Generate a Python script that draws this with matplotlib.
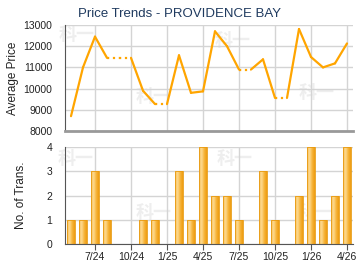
import numpy as np
import matplotlib
matplotlib.use("Agg")
import matplotlib.pyplot as plt

# monthly data, 5/24 .. 4/26 (None = no transactions that month)
months = ["5/24", "6/24", "7/24", "8/24", "9/24", "10/24", "11/24", "12/24",
          "1/25", "2/25", "3/25", "4/25", "5/25", "6/25", "7/25", "8/25",
          "9/25", "10/25", "11/25", "12/25", "1/26", "2/26", "3/26", "4/26"]
avg_price = [8700, 11000, 12450, 11450, None, None, 9900, 9270,
             None, 11570, 9800, 9870, 12700, 12000, 10900, None,
             11380, 9560, None, 12810, 11490, 11000, 11190, 12130]
num_trans = [1, 1, 3, 1, 0, 0, 1, 1,
             0, 3, 1, 4, 2, 2, 1, 0,
             3, 1, 0, 2, 4, 1, 2, 4]
tick_labels = ["7/24", "10/24", "1/25", "4/25", "7/25", "10/25", "1/26", "4/26"]
price_ticks = [8000, 9000, 10000, 11000, 12000, 13000]
trans_ticks = [0, 1, 2, 3, 4]

plt.rcParams['font.family'] = ['Liberation Sans', 'DejaVu Sans']

x = np.arange(len(months))
tick_pos = [months.index(t) for t in tick_labels]

# carry last price forward through empty months
filled = []
last = None
for v in avg_price:
    if v is not None:
        last = v
    filled.append(last)

fig = plt.figure(figsize=(3.6, 2.7), dpi=100, facecolor='w')
ax1 = fig.add_axes([65/360, 1-131/270, 288/360, 106/270])
ax2 = fig.add_axes([65/360, 1-244/270, 288/360, 97/270])

line_col = '#FFA500'
grid_col = '#d4d4d4'

def wm(ax, px, py):
    # faint watermark, position given in figure pixels
    ax.text(px/360, 1-py/270, "科一", fontsize=13, fontweight='bold',
            color='#eeeeee', family=['Noto Sans CJK SC', 'DejaVu Sans'],
            ha='center', va='center', transform=fig.transFigure,
            zorder=0.1, clip_on=False)

for px, py in [(77, 34), (233, 40), (154, 96), (317, 92)]:
    wm(ax1, px, py)
for px, py in [(76, 158), (235, 158), (154, 213), (316, 212)]:
    wm(ax2, px, py)

for ax in (ax1, ax2):
    ax.set_facecolor('none')
    ax.set_xlim(-0.5, len(months) - 0.5)
    ax.set_xticks(tick_pos)
    ax.grid(True, color=grid_col, linewidth=1.0)
    ax.set_axisbelow(True)
    for s in ('top', 'right'):
        ax.spines[s].set_visible(False)
    ax.spines['left'].set_color('#555555')
    ax.tick_params(axis='y', length=0, pad=9, labelsize=7.5, colors='#222222')

# price line
for i in range(len(x) - 1):
    style = ':' if avg_price[i+1] is None else '-'
    ax1.plot(x[i:i+2], filled[i:i+2], color=line_col, linewidth=1.6,
             linestyle=style, solid_capstyle='round', zorder=3)
ax1.set_ylim(8000, 13000)
ax1.set_yticks(price_ticks)
ax1.spines['bottom'].set_color('#999999')
ax1.spines['bottom'].set_linewidth(2)
ax1.tick_params(axis='x', length=0, labelbottom=False)
ax1.set_ylabel("Average Price", fontsize=8.5, color='#222222', labelpad=3)
fig.text(0.5, 1-14/270, "Price Trends - PROVIDENCE BAY", ha='center', va='center',
         fontsize=9.5, color='#1F3A5F')

# transaction bars with a horizontal gradient
bars = ax2.bar(x, num_trans, width=0.65, color='none', edgecolor='#E89A10',
               linewidth=0.6, zorder=3)
grad = np.linspace(0, 1, 64).reshape(1, -1)
cmap = matplotlib.colors.LinearSegmentedColormap.from_list(
    'g', ['#F8C05A', '#FDD98E', '#F6B43A', '#EE9C10'])
for b in bars:
    if b.get_height() == 0:
        continue
    x0, w, h = b.get_x(), b.get_width(), b.get_height()
    im = ax2.imshow(grad, cmap=cmap, extent=[x0, x0 + w, 0, h], aspect='auto',
                    zorder=2.5)
    im.set_clip_path(b)
ax2.set_xlim(-0.5, len(months) - 0.5)
ax2.set_ylim(0, 4)
ax2.set_yticks(trans_ticks)
ax2.set_xticklabels(tick_labels)
ax2.spines['bottom'].set_color('#555555')
ax2.tick_params(axis='x', length=4, labelsize=7.5, pad=2,
                color='#555555', labelcolor='#222222')
ax2.set_ylabel("No. of Trans.", fontsize=8.5, color='#222222', labelpad=14)

fig.savefig("out.png", dpi=100, facecolor='w')
